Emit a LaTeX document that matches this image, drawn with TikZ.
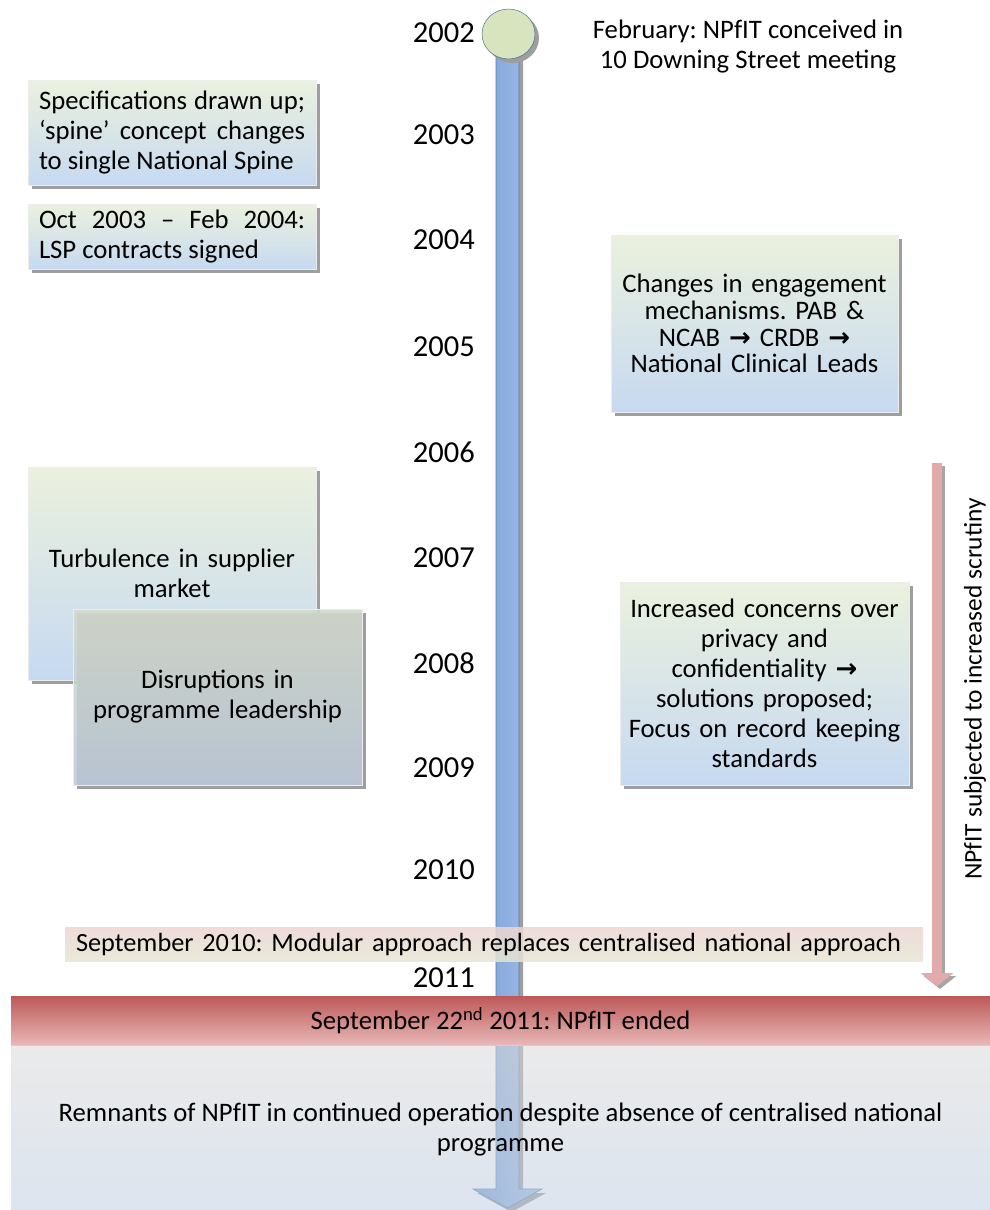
\documentclass[tikz,border=0pt]{standalone}
\usepackage{fontspec}
\setmainfont{Carlito}
\newfontfamily\symfont{DejaVu Sans}
\usetikzlibrary{shadows,shapes.geometric,arrows.meta}
\definecolor{boxtop}{RGB}{235,241,222}
\definecolor{boxbot}{RGB}{198,217,241}
\definecolor{leadtop}{RGB}{212,218,204}
\definecolor{leadbot}{RGB}{187,201,218}
\definecolor{barleft}{RGB}{118,158,216}
\definecolor{barright}{RGB}{168,194,229}
\definecolor{barline}{RGB}{80,120,180}
\definecolor{startfill}{RGB}{215,228,189}
\definecolor{startline}{RGB}{56,93,138}
\definecolor{scrpink}{RGB}{226,170,170}
\definecolor{bantop}{RGB}{237,213,210}
\definecolor{banbot}{RGB}{229,230,210}
\definecolor{endtop}{RGB}{190,88,88}
\definecolor{endbot}{RGB}{232,184,184}
\definecolor{resttop}{RGB}{217,217,217}
\definecolor{restbot}{RGB}{191,206,226}
\newcommand{\fwd}{{\symfont\bfseries\fontsize{26}{27}\selectfont →}}
\frenchspacing
\begin{document}
\begin{tikzpicture}[x=1pt,y=-1pt]
	\tikzstyle{every node} = [font = \fontsize{26.7}{30}\selectfont]
	\tikzstyle{yearlabel} = [anchor = east, inner sep = 0, font = \fontsize{30.5}{36}\selectfont]
	\tikzstyle{shadowed} = [drop shadow = {shadow xshift = 4pt, shadow yshift = -4pt, fill = black!38, opacity = 1}]
	\tikzstyle{eventbox} = [shadowed, draw = white!85!gray, top color = boxtop, bottom color = boxbot, inner xsep = 10pt]
	\useasboundingbox (0,0) rectangle (990,1210);

	% events left of the timeline
	\node[eventbox, minimum width = 288, minimum height = 105, text width = 266, align = justify] (spec) at (172,132.5)
		{Specifications drawn up;\linebreak ‘spine’ concept changes\linebreak to single National Spine};
	\node[eventbox, minimum width = 288, minimum height = 65, text width = 266, align = justify] (lsp) at (172,236.5)
		{Oct 2003 -- Feb 2004:\linebreak LSP contracts signed};
	\node[eventbox, minimum width = 288, minimum height = 213, text width = 266, align = center] (turb) at (172,573.5)
		{Turbulence in supplier\\market};
	\node[eventbox, top color = leadtop, bottom color = leadbot, fill opacity = .88, text opacity = 1,
		minimum width = 289, minimum height = 176, text width = 266, align = center] (lead) at (217.5,697)
		{Disruptions in\\programme leadership};

	% events right of the timeline
	\node[align = center, inner sep = 0] (feb) at (748,47) {February: NPfIT conceived in\\10 Downing Street meeting};
	\node[eventbox, minimum width = 287, minimum height = 177, text width = 275, inner xsep = 6pt, align = center,
		font = \fontsize{26.7}{26.7}\selectfont] (engage) at (754.5,323.5)
		{Changes in engagement\\mechanisms. PAB \&\\NCAB \fwd{} CRDB \fwd\\National Clinical Leads\par\vspace*{13pt}};
	\node[eventbox, minimum width = 289, minimum height = 203, text width = 280, inner xsep = 4.5pt, align = center] (privacy) at (764.5,683.5)
		{Increased concerns over\\privacy and\\confidentiality \fwd\\solutions proposed;\\Focus on record keeping\\standards};

	% timeline
	\path[shadowed, left color = barleft, right color = barright, draw = barline, line width = .6pt]
		(496,50) -- (519,50) -- (519,1189) -- (542,1189) -- (507.5,1208) -- (473,1189) -- (496,1189) -- cycle;
	\node[ellipse, shadowed, draw = startline, fill = startfill, minimum width = 53, minimum height = 50] (start) at (508.5,34) {};
	\foreach \yr/\y in {2002/33, 2003/135, 2004/240, 2005/347, 2006/452, 2007/558, 2008/663, 2009/768, 2010/870, 2011/978}
	{
		\node[yearlabel] (y\yr) at (475,\y) {\yr};
	}

	% scrutiny arrow
	\coordinate (scrtop) at (937,463);
	\coordinate (scrbot) at (937,986);
	\draw[black!35, line width = 10pt, -{Triangle[length = 13pt, width = 32pt]}, transform canvas = {xshift = 3pt, yshift = -3pt}] (scrtop) -- (scrbot);
	\draw[scrpink, line width = 10pt, -{Triangle[length = 13pt, width = 32pt]}] (scrtop) -- (scrbot);
	\node[rotate = 90, inner sep = 0, font = \fontsize{25.4}{30}\selectfont] (scrutiny) at (975,689) {NPfIT subjected to increased scrutiny};

	% bands at the bottom
	\node[top color = bantop, bottom color = banbot, fill opacity = .85, text opacity = 1, minimum width = 858, minimum height = 34,
		text width = 846, inner xsep = 6pt, inner ysep = 0pt, align = left, font = \fontsize{26.3}{30}\selectfont] (modular) at (494,944)
		{\hspace*{5pt}September 2010: Modular approach replaces centralised national approach};
	\node[top color = endtop, bottom color = endbot, minimum width = 979, minimum height = 49] (ended) at (500.5,1020.5)
		{September 22\textsuperscript{nd} 2011: NPfIT ended};
	\node[top color = resttop, bottom color = restbot, fill opacity = .55, text opacity = 1, minimum width = 979, minimum height = 170,
		align = center] (remnants) at (500.5,1130)
		{Remnants of NPfIT in continued operation despite absence of centralised national\\programme};
\end{tikzpicture}
\end{document}
